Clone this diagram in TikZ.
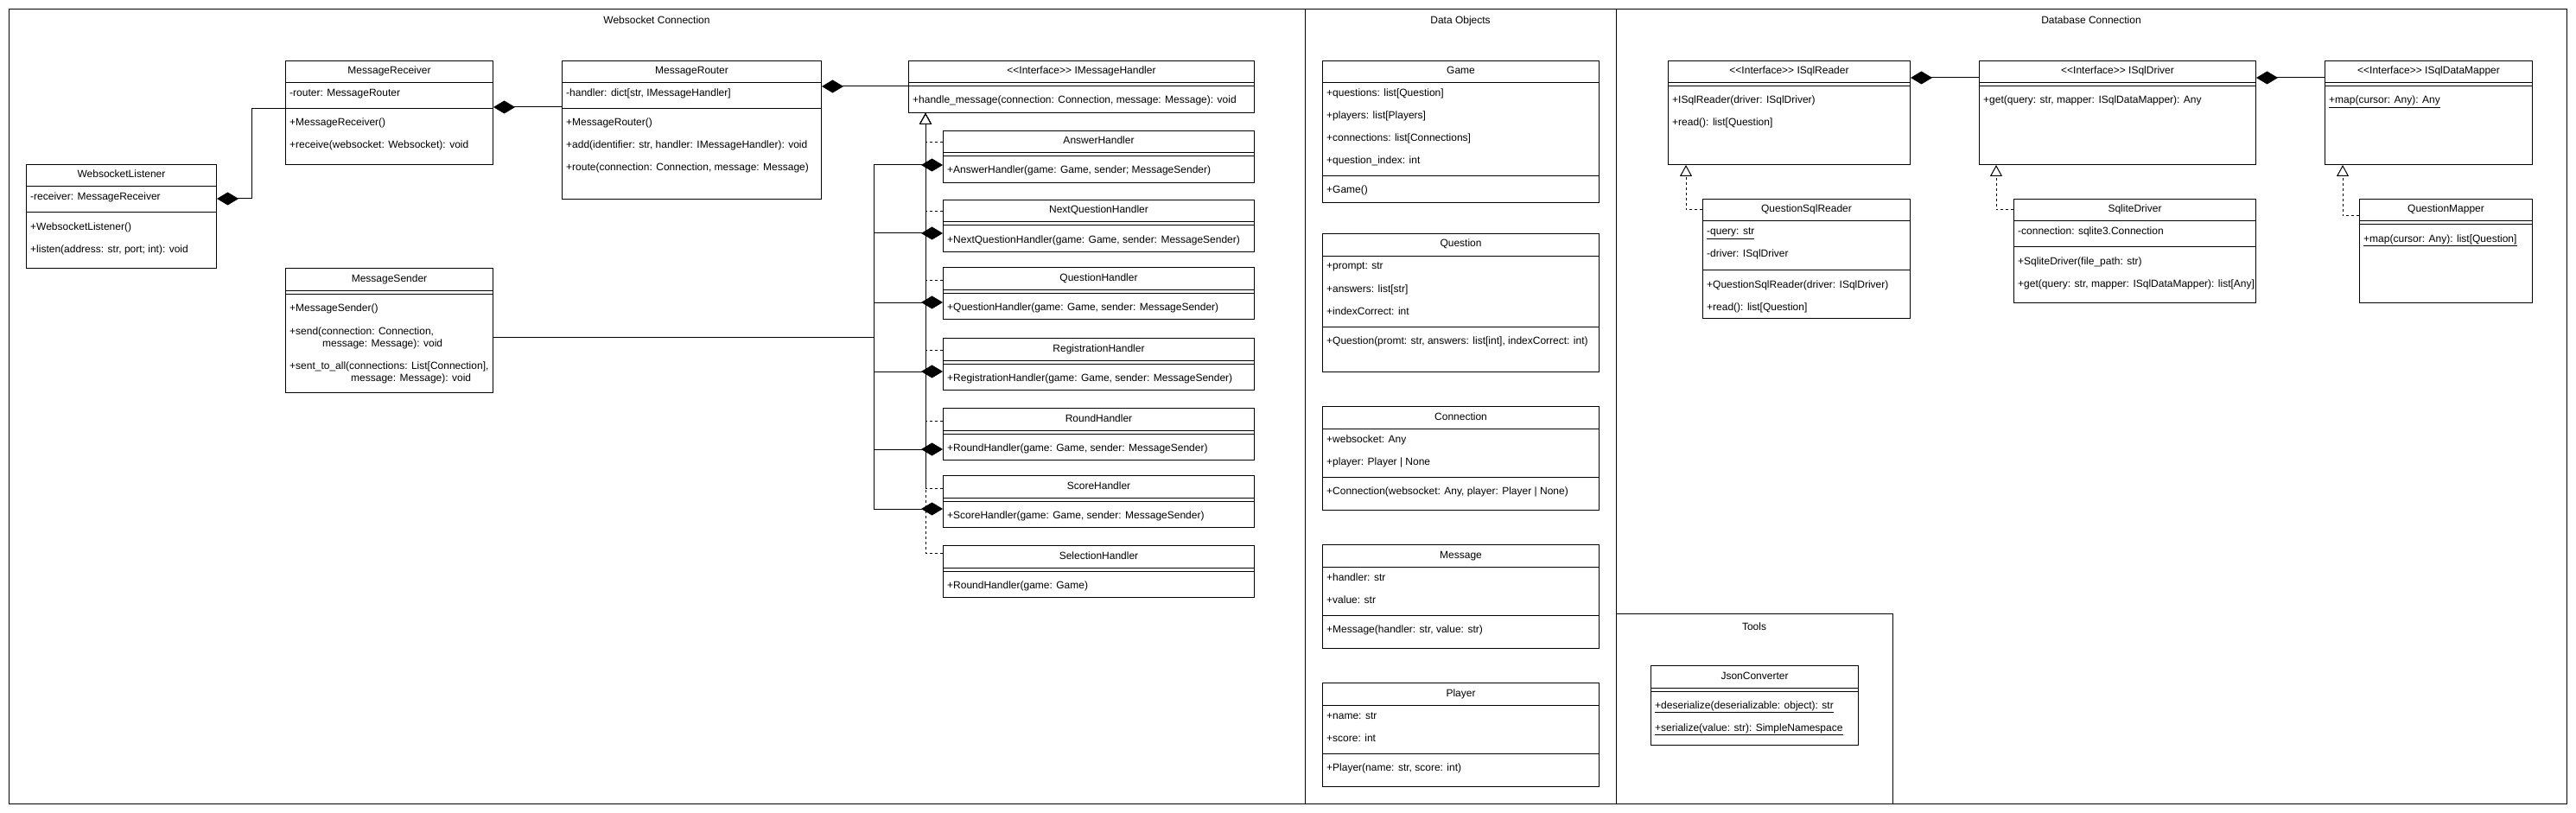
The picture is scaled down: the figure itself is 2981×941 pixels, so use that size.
\documentclass[tikz,border=0pt]{standalone}
\usepackage{fontspec}
\setmainfont{Liberation Sans}
\usetikzlibrary{arrows.meta,calc}
\tikzset{
  clsbox/.style={draw, line width=1pt, fill=white, inner sep=0pt, rectangle},
  boxline/.style={line width=1pt},
  clstitle/.style={inner sep=0pt, text height=8.5pt, text depth=2.5pt},
  clsmem/.style={inner sep=0pt, text height=8.5pt, text depth=2.5pt, anchor=west},
  secframe/.style={draw, line width=1pt, inner sep=0pt, rectangle},
  sectitle/.style={inner sep=0pt, text height=8.5pt, text depth=2.5pt},
  comp/.style={line width=1pt, -{Diamond[length=25pt, width=15pt]}},
  real/.style={line width=1pt, dash pattern=on 3pt off 3pt, -{Triangle[length=13pt, width=14pt, fill=white]}},
}
\newcommand{\umlcls}[6]{%
  \node[clsbox, minimum width=#4pt, minimum height=#5pt, anchor=north west] (#1) at (#2,#3) {};
  \node[clstitle] (#1-title) at ($(#1.north)+(0,13)$) {#6};
  \draw[boxline] ($(#1.north west)+(0,26)$) -- ($(#1.north east)+(0,26)$);
}
\newcommand{\umlmem}[4]{\node[clsmem] (#2) at ($(#1.north west)+(5,#3)$) {#4};}
\newcommand{\umlsep}[2]{\draw[boxline] ($(#1.north west)+(0,#2)$) -- ($(#1.north east)+(0,#2)$);}
\newcommand{\ifc}{\textless\kern0pt\textless\kern0pt Interface\textgreater\kern0pt\textgreater}
\begin{document}
\begin{tikzpicture}[x=1pt, y=-1pt, font=\fontsize{12}{14}\selectfont]
\fill[white] (0,0) rectangle (2981,941);
\useasboundingbox (0,0) rectangle (2981,941);

% ---------- section frames ----------
\node[secframe, minimum width=1500pt, minimum height=920pt, anchor=north west] (secws) at (10,10) {};
\node[secframe, minimum width=360pt, minimum height=920pt, anchor=north west] (secdo) at (1510,10) {};
\node[secframe, minimum width=1100pt, minimum height=920pt, anchor=north west] (secdb) at (1870,10) {};
\node[secframe, minimum width=320pt, minimum height=220pt, anchor=north west] (sectl) at (1870,710) {};
\node[sectitle] (secws-t) at (760,25) {Websocket Connection};
\node[sectitle] (secdo-t) at (1690,25) {Data Objects};
\node[sectitle] (secdb-t) at (2420,25) {Database Connection};
\node[sectitle] (sectl-t) at (2030,726) {Tools};

% ---------- Websocket Connection ----------
\umlcls{wsl}{30}{190}{220}{120}{WebsocketListener}
\umlmem{wsl}{wsl-a1}{39}{-receiver: MessageReceiver}
\umlsep{wsl}{56}
\umlmem{wsl}{wsl-m1}{73}{+WebsocketListener()}
\umlmem{wsl}{wsl-m2}{99}{+listen(address: str, port; int): void}

\umlcls{recv}{330}{70}{240}{120}{MessageReceiver}
\umlmem{recv}{recv-a1}{39}{-router: MessageRouter}
\umlsep{recv}{56}
\umlmem{recv}{recv-m1}{73}{+MessageReceiver()}
\umlmem{recv}{recv-m2}{99}{+receive(websocket: Websocket): void}

\umlcls{router}{650}{70}{300}{160}{MessageRouter}
\umlmem{router}{router-a1}{39}{-handler: dict[str, IMessageHandler]}
\umlsep{router}{56}
\umlmem{router}{router-m1}{73}{+MessageRouter()}
\umlmem{router}{router-m2}{99}{+add(identifier: str, handler: IMessageHandler): void}
\umlmem{router}{router-m3}{125}{+route(connection: Connection, message: Message)}

\umlcls{snd}{330}{310}{240}{144}{MessageSender}
\umlsep{snd}{30}
\umlmem{snd}{snd-m1}{47}{+MessageSender()}
\umlmem{snd}{snd-m2a}{74}{+send(connection: Connection,}
\node[clsmem] (snd-m2b) at ($(snd.north west)+(43,88)$) {message: Message): void};
\umlmem{snd}{snd-m3a}{114}{+sent\_to\_all(connections: List[Connection],}
\node[clsmem] (snd-m3b) at ($(snd.north west)+(76,128)$) {message: Message): void};

\umlcls{imh}{1051}{70}{400}{60}{\ifc{} IMessageHandler}
\umlsep{imh}{30}
\umlmem{imh}{imh-m1}{47}{+handle\_message(connection: Connection, message: Message): void}

\umlcls{ah}{1091}{151}{360}{60}{AnswerHandler}
\umlsep{ah}{30}
\umlmem{ah}{ah-m1}{47}{+AnswerHandler(game: Game, sender; MessageSender)}

\umlcls{nqh}{1091}{231}{360}{60}{NextQuestionHandler}
\umlsep{nqh}{30}
\umlmem{nqh}{nqh-m1}{47}{+NextQuestionHandler(game: Game, sender: MessageSender)}

\umlcls{qh}{1091}{309}{360}{60}{QuestionHandler}
\umlsep{qh}{30}
\umlmem{qh}{qh-m1}{47}{+QuestionHandler(game: Game, sender: MessageSender)}

\umlcls{rgh}{1091}{391}{360}{60}{RegistrationHandler}
\umlsep{rgh}{30}
\umlmem{rgh}{rgh-m1}{47}{+RegistrationHandler(game: Game, sender: MessageSender)}

\umlcls{rh}{1091}{472}{360}{60}{RoundHandler}
\umlsep{rh}{30}
\umlmem{rh}{rh-m1}{47}{+RoundHandler(game: Game, sender: MessageSender)}

\umlcls{sh}{1091}{550}{360}{60}{ScoreHandler}
\umlsep{sh}{30}
\umlmem{sh}{sh-m1}{47}{+ScoreHandler(game: Game, sender: MessageSender)}

\umlcls{slh}{1091}{631}{360}{60}{SelectionHandler}
\umlsep{slh}{30}
\umlmem{slh}{slh-m1}{47}{+RoundHandler(game: Game)}

% ---------- Data Objects ----------
\umlcls{game}{1530}{70}{320}{164}{Game}
\umlmem{game}{game-a1}{39}{+questions: list[Question]}
\umlmem{game}{game-a2}{65}{+players: list[Players]}
\umlmem{game}{game-a3}{91}{+connections: list[Connections]}
\umlmem{game}{game-a4}{117}{+question\_index: int}
\umlsep{game}{134}
\umlmem{game}{game-m1}{151}{+Game()}

\umlcls{quest}{1530}{270}{320}{160}{Question}
\umlmem{quest}{quest-a1}{39}{+prompt: str}
\umlmem{quest}{quest-a2}{65}{+answers: list[str]}
\umlmem{quest}{quest-a3}{91}{+indexCorrect: int}
\umlsep{quest}{108}
\umlmem{quest}{quest-m1}{125}{+Question(promt: str, answers: list[int], indexCorrect: int)}

\umlcls{conn}{1530}{470}{320}{120}{Connection}
\umlmem{conn}{conn-a1}{39}{+websocket: Any}
\umlmem{conn}{conn-a2}{65}{+player: Player \textbar{} None}
\umlsep{conn}{82}
\umlmem{conn}{conn-m1}{99}{+Connection(websocket: Any, player: Player \textbar{} None)}

\umlcls{msg}{1530}{630}{320}{120}{Message}
\umlmem{msg}{msg-a1}{39}{+handler: str}
\umlmem{msg}{msg-a2}{65}{+value: str}
\umlsep{msg}{82}
\umlmem{msg}{msg-m1}{99}{+Message(handler: str, value: str)}

\umlcls{player}{1530}{790}{320}{120}{Player}
\umlmem{player}{player-a1}{39}{+name: str}
\umlmem{player}{player-a2}{65}{+score: int}
\umlsep{player}{82}
\umlmem{player}{player-m1}{99}{+Player(name: str, score: int)}

% ---------- Database Connection ----------
\umlcls{isr}{1930}{70}{280}{120}{\ifc{} ISqlReader}
\umlsep{isr}{30}
\umlmem{isr}{isr-m1}{47}{+ISqlReader(driver: ISqlDriver)}
\umlmem{isr}{isr-m2}{73}{+read(): list[Question]}

\umlcls{isd}{2290}{70}{320}{120}{\ifc{} ISqlDriver}
\umlsep{isd}{30}
\umlmem{isd}{isd-m1}{47}{+get(query: str, mapper: ISqlDataMapper): Any}

\umlcls{idm}{2690}{70}{240}{120}{\ifc{} ISqlDataMapper}
\umlsep{idm}{30}
\umlmem{idm}{idm-m1}{47}{\underline{+map(cursor: Any): Any}}

\umlcls{qsr}{1970}{230}{240}{138}{QuestionSqlReader}
\umlmem{qsr}{qsr-a1}{39}{\underline{-query: str}}
\umlmem{qsr}{qsr-a2}{65}{-driver: ISqlDriver}
\umlsep{qsr}{82}
\umlmem{qsr}{qsr-m1}{100}{+QuestionSqlReader(driver: ISqlDriver)}
\umlmem{qsr}{qsr-m2}{126}{+read(): list[Question]}

\umlcls{sqd}{2330}{230}{280}{120}{SqliteDriver}
\umlmem{sqd}{sqd-a1}{39}{-connection: sqlite3.Connection}
\umlsep{sqd}{56}
\umlmem{sqd}{sqd-m1}{73}{+SqliteDriver(file\_path: str)}
\umlmem{sqd}{sqd-m2}{99}{+get(query: str, mapper: ISqlDataMapper): list[Any]}

\umlcls{qm}{2730}{230}{200}{120}{QuestionMapper}
\umlsep{qm}{30}
\umlmem{qm}{qm-m1}{47}{\underline{+map(cursor: Any): list[Question]}}

% ---------- Tools ----------
\umlcls{json}{1910}{770}{240}{92}{JsonConverter}
\umlsep{json}{30}
\umlmem{json}{json-m1}{47}{\underline{+deserialize(deserializable: object): str}}
\umlmem{json}{json-m2}{73}{\underline{+serialize(value: str): SimpleNamespace}}

% ---------- connectors ----------
\coordinate (bus) at (1011,0);
\coordinate (rl) at (1071,0);
\coordinate (rl1) at (1951,0);
\coordinate (rl2) at (2310,0);
\coordinate (rl3) at (2711,0);

% realizations
\foreach \h/\yy in {ah/165, nqh/245, qh/324, rgh/405, rh/487, sh/565, slh/640}
  \draw[real] (\h.west |- 0,\yy) -| (rl |- imh.south);
\draw[real] (qsr.west |- 0,243) -| (rl1 |- isr.south);
\draw[real] (sqd.west |- 0,243) -| (rl2 |- isd.south);
\draw[real] (qm.west |- 0,250) -| (rl3 |- idm.south);

% compositions
\draw[comp] (recv.west |- 0,126) -- ++(-39,0) |- (wsl.east |- 0,230);
\draw[comp] (router.west |- 0,124) -- (recv.east |- 0,124);
\draw[comp] (imh.west |- 0,100) -- (router.east |- 0,100);
\foreach \h/\yy in {ah/191, nqh/270, qh/350, rgh/430, rh/520, sh/589}
  \draw[comp] (snd.east |- 0,390) -- (bus |- 0,390) |- (\h.west |- 0,\yy);
\draw[comp] (isd.west |- 0,90) -- (isr.east |- 0,90);
\draw[comp] (idm.west |- 0,90) -- (isd.east |- 0,90);
\end{tikzpicture}
\end{document}
